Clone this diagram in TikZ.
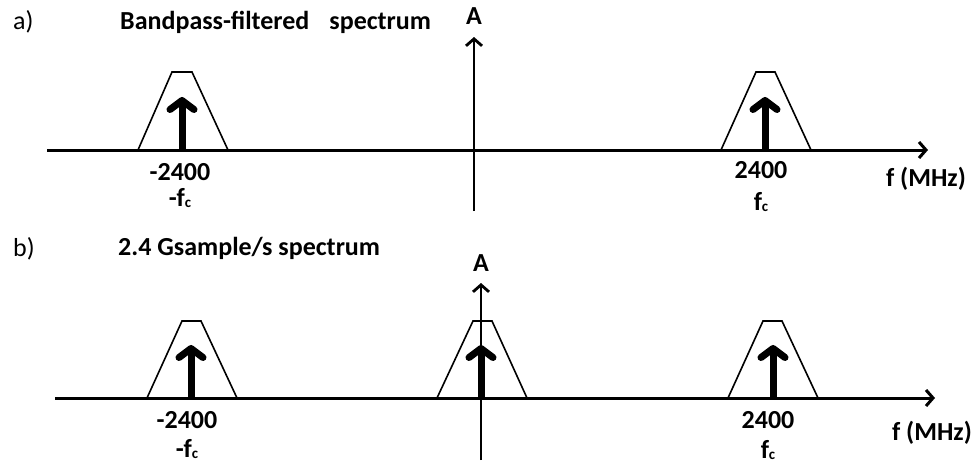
\documentclass[tikz,border=0pt]{standalone}
\usepackage{fontspec}
\setmainfont{Carlito}
\usetikzlibrary{arrows.meta}
\newcommand{\subc}{\raisebox{-1pt}{\fontsize{15}{15}\selectfont c}}
\tikzset{
  axisline/.style={line width=3pt,-{Straight Barb[length=7pt,width=16pt]}},
  yaxisline/.style={line width=2.8pt,-{Straight Barb[length=7pt,width=16pt]}},
  trap/.style={line width=1.6pt,line join=miter},
  spike/.style={line width=7pt,-{Straight Barb[length=9pt,width=24pt,round]}},
  lbl/.style={font=\fontsize{26}{30}\selectfont\bfseries,anchor=base,inner sep=0pt},
  albl/.style={font=\fontsize{26}{30}\selectfont\bfseries,anchor=base,inner sep=0pt},
  ttl/.style={font=\fontsize{26}{30}\selectfont\bfseries,anchor=base west,inner sep=0pt},
  pnl/.style={font=\fontsize{26}{30}\selectfont,anchor=base west,inner sep=0pt}
}
\begin{document}
\begin{tikzpicture}[x=1pt,y=-1pt]
\useasboundingbox (0,0) rectangle (977,464);
% ---------- panel a ----------
\node[pnl] (pa) at (13,29) {a)};
\node[ttl] (ta) at (120,29) {Bandpass-filtered\hspace{20pt}spectrum};
\coordinate (xa0) at (47,150);
\coordinate (xa1) at (928,150);
\coordinate (ya0) at (474,211);
\coordinate (ya1) at (474,37);
\draw[axisline] (xa0) -- (xa1);
\draw[yaxisline] (ya0) -- (ya1);
\node[albl] (Aa) at (474,24) {A};
% left band
\coordinate (la1) at (138,150); \coordinate (la2) at (172,72);
\coordinate (la3) at (192,72);  \coordinate (la4) at (228,150);
\draw[trap] (la1) -- (la2) -- (la3) -- (la4);
\coordinate (lsa0) at (182,150); \coordinate (lsa1) at (182,97);
\draw[spike] (lsa0) -- (lsa1);
% right band
\coordinate (ra1) at (721,150); \coordinate (ra2) at (756,72);
\coordinate (ra3) at (775,72);  \coordinate (ra4) at (811,150);
\draw[trap] (ra1) -- (ra2) -- (ra3) -- (ra4);
\coordinate (rsa0) at (765,150); \coordinate (rsa1) at (765,97);
\draw[spike] (rsa0) -- (rsa1);
\node[lbl] (n1a) at (180,180) {-2400};
\node[lbl] (n2a) at (180,206) {-f\subc};
\node[lbl] (n3a) at (761,178) {2400};
\node[lbl] (n4a) at (761,210) {f\subc};
\node[lbl] (fa) at (926,186) {f (MHz)};
% ---------- panel b ----------
\node[pnl] (pb) at (13,256) {b)};
\node[ttl] (tb) at (118,255) {2.4 Gsample/s spectrum};
\coordinate (xb0) at (55,398);
\coordinate (xb1) at (935,398);
\coordinate (yb0) at (481,460);
\coordinate (yb1) at (481,283);
% bands
\coordinate (lb1) at (147,398); \coordinate (lb2) at (182,321);
\coordinate (lb3) at (201,321); \coordinate (lb4) at (237,398);
\draw[trap] (lb1) -- (lb2) -- (lb3) -- (lb4);
\coordinate (cb1) at (437,398); \coordinate (cb2) at (473,321);
\coordinate (cb3) at (492,321); \coordinate (cb4) at (527,398);
\draw[trap] (cb1) -- (cb2) -- (cb3) -- (cb4);
\coordinate (rb1) at (728,398); \coordinate (rb2) at (763,321);
\coordinate (rb3) at (782,321); \coordinate (rb4) at (818,398);
\draw[trap] (rb1) -- (rb2) -- (rb3) -- (rb4);
\coordinate (lsb0) at (191,398); \coordinate (lsb1) at (191,345);
\draw[spike] (lsb0) -- (lsb1);
\coordinate (csb0) at (481,398); \coordinate (csb1) at (481,345);
\draw[spike] (csb0) -- (csb1);
\coordinate (rsb0) at (773,398); \coordinate (rsb1) at (773,345);
\draw[spike] (rsb0) -- (rsb1);
\draw[axisline] (xb0) -- (xb1);
\draw[yaxisline] (yb0) -- (yb1);
\node[albl] (Ab) at (481,271) {A};
\node[lbl] (n1b) at (187,428) {-2400};
\node[lbl] (n2b) at (187,457) {-f\subc};
\node[lbl] (n3b) at (768,428) {2400};
\node[lbl] (n4b) at (768,458) {f\subc};
\node[lbl] (fb) at (932,440) {f (MHz)};
\end{tikzpicture}
\end{document}
